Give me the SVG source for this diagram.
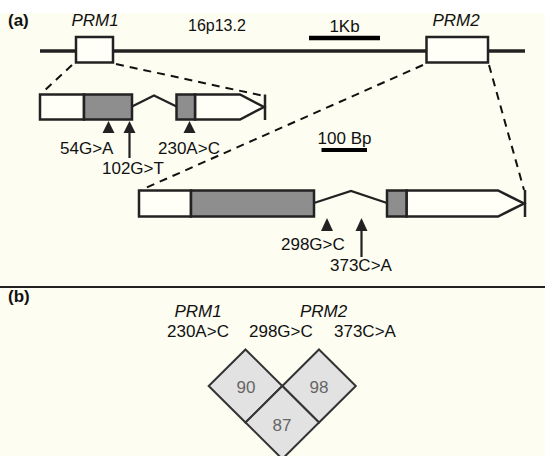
<svg xmlns="http://www.w3.org/2000/svg" width="545" height="456" viewBox="0 0 545 456">
<style>
text{font-family:"Liberation Sans",Arial,sans-serif;font-size:17px;fill:#111}
.it{font-style:italic}
.b{font-weight:bold}
.ex{stroke:#222;stroke-width:2.5;stroke-linejoin:miter}
.w{fill:#fffff8}
.g{fill:#8e8e8e}
.ln{stroke:#222;stroke-width:2.2;fill:none}
.dash{stroke:#111;stroke-width:2;fill:none;stroke-dasharray:8 6}
.ah{fill:#222}
.dm{fill:#e2e2e2;stroke:#333;stroke-width:2}
.num{fill:#666;text-anchor:middle;font-size:17px}
</style>
<rect x="0" y="0" width="545" height="456" fill="#fdfdf1"/>
<rect x="0" y="0" width="545" height="13" fill="#ffffff"/>

<text x="8" y="26" class="b">(a)</text>
<text x="188" y="31" style="font-size:16px">16p13.2</text>

<g id="chromosome">
<line x1="40" y1="51" x2="525" y2="51" stroke="#222" stroke-width="3.5"/>
</g>
<g id="scale-1kb">
<line x1="309" y1="38" x2="380" y2="38" stroke="#000" stroke-width="4.5"/>
<text x="344.5" y="31.5" text-anchor="middle">1Kb</text>
</g>
<g id="PRM1-locus">
<rect x="76" y="37" width="37" height="25.5" class="ex w"/>
<text x="95" y="26" class="it" text-anchor="middle">PRM1</text>
</g>
<g id="PRM2-locus">
<rect x="426.5" y="37" width="61.5" height="25.5" class="ex w"/>
<text x="456" y="26" class="it" text-anchor="middle">PRM2</text>
</g>

<g id="connectors">
<line x1="72" y1="65" x2="42" y2="93" class="dash"/>
<line x1="116" y1="64" x2="264" y2="96" class="dash"/>
<line x1="423" y1="65" x2="141" y2="190" class="dash"/>
<line x1="489" y1="65" x2="524" y2="190" class="dash"/>
</g>

<g id="PRM1-gene">
<rect x="40" y="94.5" width="44" height="25" class="ex w"/>
<rect x="84" y="94.5" width="48" height="25" class="ex g"/>
<polyline points="132,106.5 154,95.5 176.5,106.5" class="ln"/>
<polygon points="195,94.5 240,94.5 264,107 240,119.5 195,119.5" class="ex w"/>
<rect x="176.5" y="94.5" width="18.5" height="25" class="ex g"/>
<line x1="265" y1="94.5" x2="265" y2="120" stroke="#222" stroke-width="2.5"/>
</g>

<g id="PRM1-variants">
<polygon points="108.5,121 102.5,133 114.5,133" class="ah"/>
<polygon points="129.5,121 123.5,133 135.5,133" class="ah"/>
<line x1="129.5" y1="132" x2="129.5" y2="158" stroke="#222" stroke-width="2.2"/>
<polygon points="189.5,121 183.5,133 195.5,133" class="ah"/>
<text x="60" y="154">54G&gt;A</text>
<text x="102" y="174">102G&gt;T</text>
<text x="158" y="154">230A&gt;C</text>
</g>

<g id="scale-100bp">
<text x="344.5" y="143.5" text-anchor="middle">100 Bp</text>
<line x1="321.5" y1="150" x2="367" y2="150" stroke="#000" stroke-width="4"/>
</g>

<g id="PRM2-gene">
<rect x="139" y="190.5" width="52" height="26" class="ex w"/>
<rect x="191" y="190.5" width="123" height="26" class="ex g"/>
<polyline points="314,203 351,191 387,203" class="ln"/>
<polygon points="406.5,190.5 498,190.5 524,203.5 498,216.5 406.5,216.5" class="ex w"/>
<rect x="387" y="190.5" width="19.5" height="26" class="ex g"/>
<line x1="525" y1="190" x2="525" y2="217" stroke="#222" stroke-width="2.5"/>
</g>

<g id="PRM2-variants">
<polygon points="327,218 321,231 333,231" class="ah"/>
<polygon points="361.5,218 355.5,231 367.5,231" class="ah"/>
<line x1="361.5" y1="230" x2="361.5" y2="257" stroke="#222" stroke-width="2.2"/>
<text x="281" y="250">298G&gt;C</text>
<text x="330" y="271">373C&gt;A</text>
</g>

<line x1="0" y1="287" x2="545" y2="287" stroke="#222" stroke-width="2"/>

<text x="8" y="302" class="b">(b)</text>
<g id="ld-labels">
<text x="198" y="316.5" class="it" text-anchor="middle">PRM1</text>
<text x="323.5" y="316.5" class="it" text-anchor="middle">PRM2</text>
<text x="167" y="336.5">230A&gt;C</text>
<text x="249" y="336.5">298G&gt;C</text>
<text x="334" y="336.5">373C&gt;A</text>
</g>
<g id="ld-90">
<polygon points="245.5,349.5 282.3,386 245.5,422.5 208.7,386" class="dm"/>
<text x="246" y="393" class="num">90</text>
</g>
<g id="ld-98">
<polygon points="319,349.5 355.8,386 319,422.5 282.3,386" class="dm"/>
<text x="319" y="393" class="num">98</text>
</g>
<g id="ld-87">
<polygon points="282.3,386 319,422.5 282.3,459 245.5,422.5" class="dm"/>
<text x="282" y="431" class="num">87</text>
</g>
</svg>
